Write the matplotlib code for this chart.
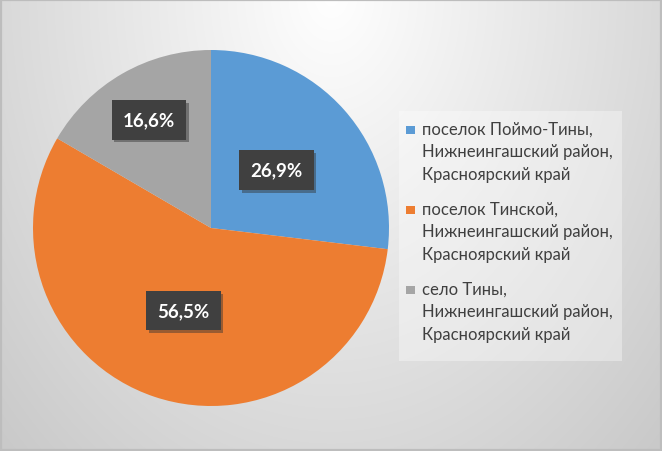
import matplotlib
matplotlib.use("Agg")
import matplotlib.pyplot as plt
import numpy as np
from matplotlib.patches import Rectangle
import matplotlib.patheffects as pe

labels = ["поселок Поймо-Тины,\nНижнеингашский район,\nКрасноярский край",
          "поселок Тинской,\nНижнеингашский район,\nКрасноярский край",
          "село Тины,\nНижнеингашский район,\nКрасноярский край"]
values = [26.9, 56.5, 16.6]
value_labels = ["26,9%", "56,5%", "16,6%"]
colors = ["#5B9BD5", "#ED7D31", "#A5A5A5"]
label_dist = [0.49, 0.49, 0.70]

plt.rcParams['font.family'] = ['Lato', 'DejaVu Sans']

fig = plt.figure(figsize=(6.62, 4.52), dpi=100)
W, H = 662, 452

# background gradient (pixel coordinates, y downwards)
bg = fig.add_axes([0, 0, 1, 1], zorder=-10)
yy, xx = np.mgrid[0:H, 0:W]
d = np.sqrt(((xx - W / 2) / (W / 2)) ** 2 + ((yy + 5) / H) ** 2)
val = np.clip(1.0 - 0.15 * d, 0, 1)
img = np.dstack([val, val, val])
bg.imshow(img, extent=[0, W, H, 0], aspect='auto', interpolation='bilinear')
bg.set_xlim(0, W); bg.set_ylim(H, 0)
bg.axis('off')
bg.add_patch(Rectangle((0.8, 0.8), W - 1.6, H - 1.6, facecolor='none',
                       edgecolor='#bdbdbd', linewidth=1.6))

# legend (manual, in pixel coords on bg axes)
bg.add_patch(Rectangle((399, 112), 223, 250, facecolor='white', alpha=0.35,
                       edgecolor='none'))
first_base = [135, 215, 295]
line_step = 22.5
for lab, col, b0 in zip(labels, colors, first_base):
    bg.add_patch(Rectangle((406, b0 - 8.5), 8.5, 8.5, facecolor=col, edgecolor='none'))
    for i, line in enumerate(lab.split("\n")):
        bg.text(422, b0 + i * line_step, line, ha='left', va='baseline',
                fontsize=12, color='#404040')

# pie axes: center (211,229), r=178
r = 178
ax = fig.add_axes([(211 - r) / W, (H - 229 - r) / H, 2 * r / W, 2 * r / H])
wedges, _ = ax.pie(values, colors=colors, startangle=90, counterclock=False,
                   radius=1.0, wedgeprops=dict(linewidth=0))
ax.set_xlim(-1, 1); ax.set_ylim(-1, 1)
ax.set_aspect('auto')

for w, lab, ld in zip(wedges, value_labels, label_dist):
    ang = np.deg2rad((w.theta1 + w.theta2) / 2)
    x, y = ld * np.cos(ang), ld * np.sin(ang)
    t = ax.text(x, y, lab, ha='center', va='center', color='white',
                fontsize=13.5, fontweight='bold',
                bbox=dict(boxstyle='square,pad=0.6', facecolor='#404040',
                          edgecolor='none'))
    t.get_bbox_patch().set_path_effects([
        pe.withSimplePatchShadow(offset=(2, -2), shadow_rgbFace='#333333', alpha=0.45)])

fig.savefig("out.png", dpi=100)
